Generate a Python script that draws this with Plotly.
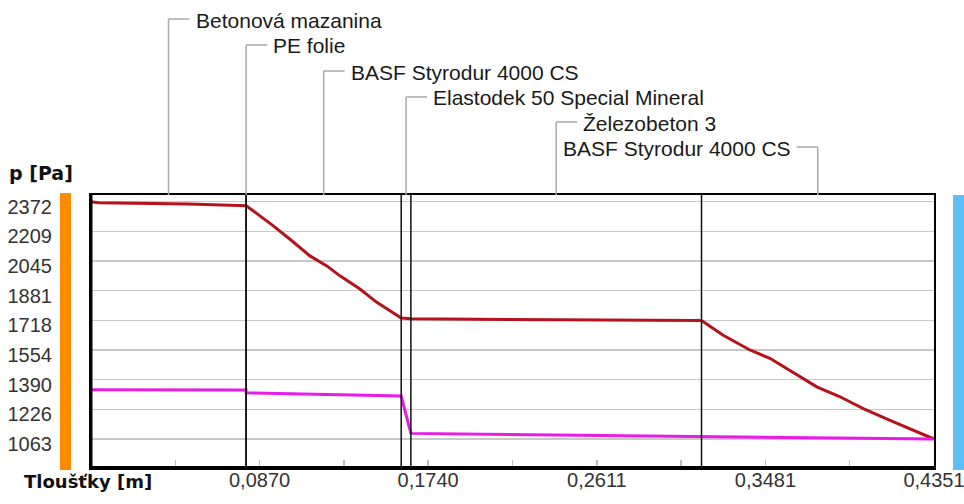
import plotly.graph_objects as go

# ---------------- data ----------------
layer_names = ["Betonová mazanina", "PE folie", "BASF Styrodur 4000 CS",
               "Elastodek 50 Special Mineral", "Železobeton 3", "BASF Styrodur 4000 CS"]
layer_thickness = [0.08, 0.0001, 0.08, 0.005, 0.15, 0.12]

x_tick_vals = [0.0435, 0.0870, 0.1305, 0.1740, 0.2176, 0.2611, 0.3046, 0.3481, 0.3916, 0.4351]
x_tick_text = ["", "0,0870", "", "0,1740", "", "0,2611", "", "0,3481", "", "0,4351"]

y_tick_vals = [1063, 1226.6, 1390.3, 1553.9, 1717.5, 1881.1, 2044.8, 2208.4, 2372]
y_tick_text = ["1063", "1226", "1390", "1554", "1718", "1881", "2045", "2209", "2372"]

# saturated vapour pressure (red)
psat_x = [0, 0.004, 0.05, 0.080, 0.0801, 0.0872, 0.0941, 0.1027, 0.1130, 0.1217,
          0.1285, 0.1388, 0.1475, 0.1543, 0.1601, 0.1651, 0.3151, 0.3263, 0.3401,
          0.3504, 0.3607, 0.3746, 0.3866, 0.3986, 0.4124, 0.4227, 0.4351]
psat_y = [2372, 2366, 2360, 2352, 2350, 2294, 2239, 2165, 2073, 2018,
          1963, 1890, 1817, 1770, 1730, 1726, 1716, 1635, 1554,
          1508, 1443, 1351, 1296, 1231, 1166, 1120, 1063]

# partial vapour pressure (magenta)
p_x = [0, 0.0800, 0.0801, 0.1601, 0.1651, 0.3151, 0.4351]
p_y = [1335, 1333, 1318, 1300, 1094, 1076, 1063]

# ---------------- geometry helpers ----------------
W, H = 964, 504
L, R, T, B = 91, 30, 195, 36
x_min, x_max = 0.0, 0.4351
y_min, y_max = 903, 2409
plot_w = W - L - R
plot_h = H - T - B
px_per_x = plot_w / (x_max - x_min)


def paper_y(py):
    return (H - B - py) / plot_h


def paper_x(px):
    return (px - L) / plot_w


fig = go.Figure()
fig.add_trace(go.Scatter(x=psat_x, y=psat_y, mode="lines",
                         line=dict(color="#B5121B", width=3), hoverinfo="skip"))
fig.add_trace(go.Scatter(x=p_x, y=p_y, mode="lines",
                         line=dict(color="#E81BE8", width=3), hoverinfo="skip"))

shapes = []
annotations = []

# layer boundaries
bounds = []
acc = 0.0
mids = []
for t in layer_thickness:
    mids.append(acc + t / 2)
    acc += t
    bounds.append(acc)
for b in bounds[:-1]:
    shapes.append(dict(type="line", xref="x", yref="paper", x0=b, x1=b, y0=0, y1=1,
                       line=dict(color="#111111", width=1.5), layer="above"))

# layer labels with connectors
label_py = [19, 45, 71, 97, 122, 147]
conn_len = 21 / px_per_x
gap = 25 / px_per_x
conn_color = "#A9A9A9"
for i, (name, m) in enumerate(zip(layer_names, mids)):
    py = label_py[i]
    shapes.append(dict(type="line", xref="x", yref="paper", x0=m, x1=m,
                       y0=1, y1=paper_y(py), line=dict(color=conn_color, width=1.5)))
    last = i == len(layer_names) - 1
    x_end = m - conn_len if last else m + conn_len
    shapes.append(dict(type="line", xref="x", yref="paper", x0=m, x1=x_end,
                       y0=paper_y(py), y1=paper_y(py), line=dict(color=conn_color, width=1.5)))
    annotations.append(dict(text=name, xref="x", yref="paper",
                            x=(m - gap) if last else (m + gap), y=paper_y(py + 1),
                            xanchor="right" if last else "left", yanchor="middle",
                            showarrow=False,
                            font=dict(family="Liberation Sans", size=21, color="#1a1a1a")))

# thicker bottom / left frame lines
shapes.append(dict(type="line", xref="paper", yref="paper", x0=0, x1=1, y0=0, y1=0,
                   line=dict(color="#000000", width=4), layer="above"))
shapes.append(dict(type="line", xref="paper", yref="paper", x0=0, x1=0, y0=0, y1=1,
                   line=dict(color="#000000", width=3), layer="above"))

# orange and blue side bars
shapes.append(dict(type="rect", xref="paper", yref="paper",
                   x0=paper_x(60), x1=paper_x(71), y0=paper_y(470), y1=paper_y(193),
                   fillcolor="#FF8A00", line=dict(width=0)))
shapes.append(dict(type="rect", xref="paper", yref="paper",
                   x0=paper_x(953), x1=paper_x(964), y0=paper_y(470), y1=paper_y(195),
                   fillcolor="#5CBFF5", line=dict(width=0)))

# axis titles
annotations.append(dict(text="<b>p [Pa]</b>", xref="paper", yref="paper",
                        x=paper_x(7), y=paper_y(173), xanchor="left", yanchor="middle",
                        showarrow=False,
                        font=dict(family="DejaVu Sans", size=19, color="#111111")))
annotations.append(dict(text="<b>Tloušťky [m]</b>", xref="paper", yref="paper",
                        x=paper_x(22), y=paper_y(481), xanchor="left", yanchor="middle",
                        showarrow=False,
                        font=dict(family="DejaVu Sans", size=18, color="#111111")))

fig.update_layout(
    width=W, height=H,
    margin=dict(l=L, r=R, t=T, b=B, pad=0),
    paper_bgcolor="white", plot_bgcolor="white",
    showlegend=False,
    shapes=shapes, annotations=annotations,
    xaxis=dict(range=[x_min, x_max], tickvals=x_tick_vals, ticktext=x_tick_text,
               ticks="inside", ticklen=8, tickwidth=1.5, tickcolor="#BDBDBD",
               showgrid=False, zeroline=False,
               showline=True, mirror=True, linecolor="#000000", linewidth=2,
               tickfont=dict(family="Liberation Sans", size=20, color="#333333"),
               ticklabelstandoff=-7, ticklabeloverflow="allow",
               automargin=False),
    yaxis=dict(range=[y_min, y_max], tickvals=y_tick_vals, ticktext=y_tick_text,
               ticks="", showgrid=True, gridcolor="#C8C8C8", gridwidth=1.5,
               zeroline=False,
               showline=True, mirror=True, linecolor="#000000", linewidth=2,
               tickfont=dict(family="Liberation Sans", size=20, color="#333333"),
               ticklabelstandoff=33, ticklabelshift=5,
               automargin=False),
)

fig.write_html("out.html",
               config={"displayModeBar": False, "staticPlot": True},
               post_script="document.body.style.margin='0px';"
                           "document.body.style.overflow='hidden';")
